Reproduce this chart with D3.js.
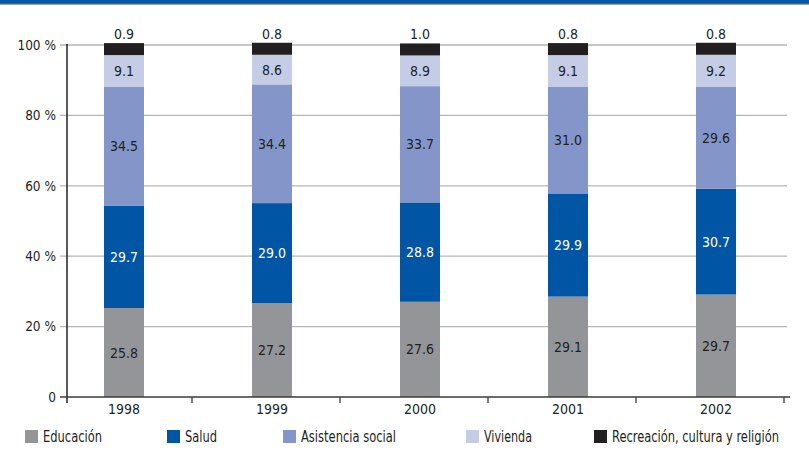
<!DOCTYPE html>
<html><head><meta charset="utf-8">
<script src="https://cdn.jsdelivr.net/npm/d3@7"></script>
<style>
html,body{margin:0;padding:0;background:#fff;}
svg{display:block;font-family:"Liberation Sans Narrow","DejaVu Sans Condensed","Roboto Condensed",sans-serif;}
</style></head>
<body>
<svg id="c" width="809" height="464"></svg>
<script>
const years = ["1998","1999","2000","2001","2002"];
const educacion  = [25.8, 27.2, 27.6, 29.1, 29.7];
const salud      = [29.7, 29.0, 28.8, 29.9, 30.7];
const asistencia = [34.5, 34.4, 33.7, 31.0, 29.6];
const vivienda   = [9.1, 8.6, 8.9, 9.1, 9.2];
const recreacion = [0.9, 0.8, 1.0, 0.8, 0.8];
const yTicks = [0, 20, 40, 60, 80, 100];
const tickLabels = ["0", "20 %", "40 %", "60 %", "80 %", "100 %"];
const seriesNames = ["Educación", "Salud", "Asistencia social", "Vivienda", "Recreación, cultura y religión"];
const seriesColors = ["#939598", "#0055a4", "#8496c9", "#c5cce6", "#231f20"];
const labelColors = ["#231f20", "#ffffff", "#231f20", "#231f20", "#231f20"];

const seriesVals = [educacion, salud, asistencia, vivienda, recreacion];
const keys = ["s0","s1","s2","s3","s4"];
const table = years.map((y,i)=>{const o={year:y}; keys.forEach((k,j)=>o[k]=seriesVals[j][i]); return o;});
const stacked = d3.stack().keys(keys)(table);

const svg = d3.select("#c");
// top band
svg.append("rect").attr("x",0).attr("y",0).attr("width",809).attr("height",3.5).attr("fill","#0a56a6");
svg.append("line").attr("x1",0).attr("x2",809).attr("y1",3.8).attr("y2",3.8).attr("stroke","#3b4656").attr("stroke-width",1.2);

const x = d3.scaleBand().domain(years).range([44, 784]).padding(0);
const yAxisS = d3.scaleLinear().domain([0,100]).range([397,45]);
const yBar = d3.scaleLinear().domain([0,100]).range([397,52]);
const barW = 40;
const cx = d => x(d) + 80;

// gridlines + y ticks
const grid = svg.append("g");
yTicks.forEach((t,i)=>{
  if (t>0) grid.append("line").attr("x1",60).attr("x2",787).attr("y1",yAxisS(t)).attr("y2",yAxisS(t))
    .attr("stroke","#b5b5b5").attr("stroke-width",1.3);
  svg.append("text").attr("x",56).attr("y",yAxisS(t)).attr("dy","0.35em").attr("text-anchor","end")
    .attr("font-size",13.5).attr("fill","#231f20").text(tickLabels[i]);
});

// bars
stacked.forEach((layer,j)=>{
  const g = svg.append("g");
  layer.forEach((d,i)=>{
    const yr = years[i];
    const y0 = yBar(d[0]);
    let y1 = yBar(d[1]);
    if (j===4) y1 = Math.min(y1, y0-12);
    g.append("rect").attr("x",cx(yr)-barW/2).attr("width",barW).attr("y",y1).attr("height",y0-y1).attr("fill",seriesColors[j]);
    const v = seriesVals[j][i].toFixed(1);
    if (j===4) {
      svg.append("text").attr("x",cx(yr)).attr("y",y1-4).attr("text-anchor","middle").attr("font-size",14).attr("fill","#231f20").text(v);
    } else {
      svg.append("text").attr("x",cx(yr)).attr("y",(y0+y1)/2).attr("dy","0.36em").attr("text-anchor","middle")
        .attr("font-size",14).attr("fill",labelColors[j]).text(v);
    }
  });
});

// axes lines
svg.append("line").attr("x1",67).attr("x2",67).attr("y1",44).attr("y2",403).attr("stroke","#231f20").attr("stroke-width",1.5);
svg.append("line").attr("x1",60).attr("x2",790).attr("y1",397).attr("y2",397).attr("stroke","#3a3a3a").attr("stroke-width",1.5);
years.forEach(yr=>{
  const bx = x(yr)+x.bandwidth();
  svg.append("line").attr("x1",bx).attr("x2",bx).attr("y1",397).attr("y2",403).attr("stroke","#3a3a3a").attr("stroke-width",1.3);
  svg.append("text").attr("x",cx(yr)).attr("y",414).attr("text-anchor","middle").attr("font-size",14).attr("fill","#231f20").text(yr);
});

// legend
const legX = [25, 167, 283, 466, 594];
const legW = [59, 32, 95, 48, 167];
seriesNames.forEach((n,j)=>{
  svg.append("rect").attr("x",legX[j]).attr("y",430).attr("width",13).attr("height",13).attr("fill",seriesColors[j]);
  svg.append("text").attr("x",legX[j]+18).attr("y",436.5).attr("dy","0.36em").attr("font-size",15)
    .attr("textLength",legW[j]).attr("lengthAdjust","spacingAndGlyphs").attr("fill","#231f20").text(n);
});
</script>
</body></html>
